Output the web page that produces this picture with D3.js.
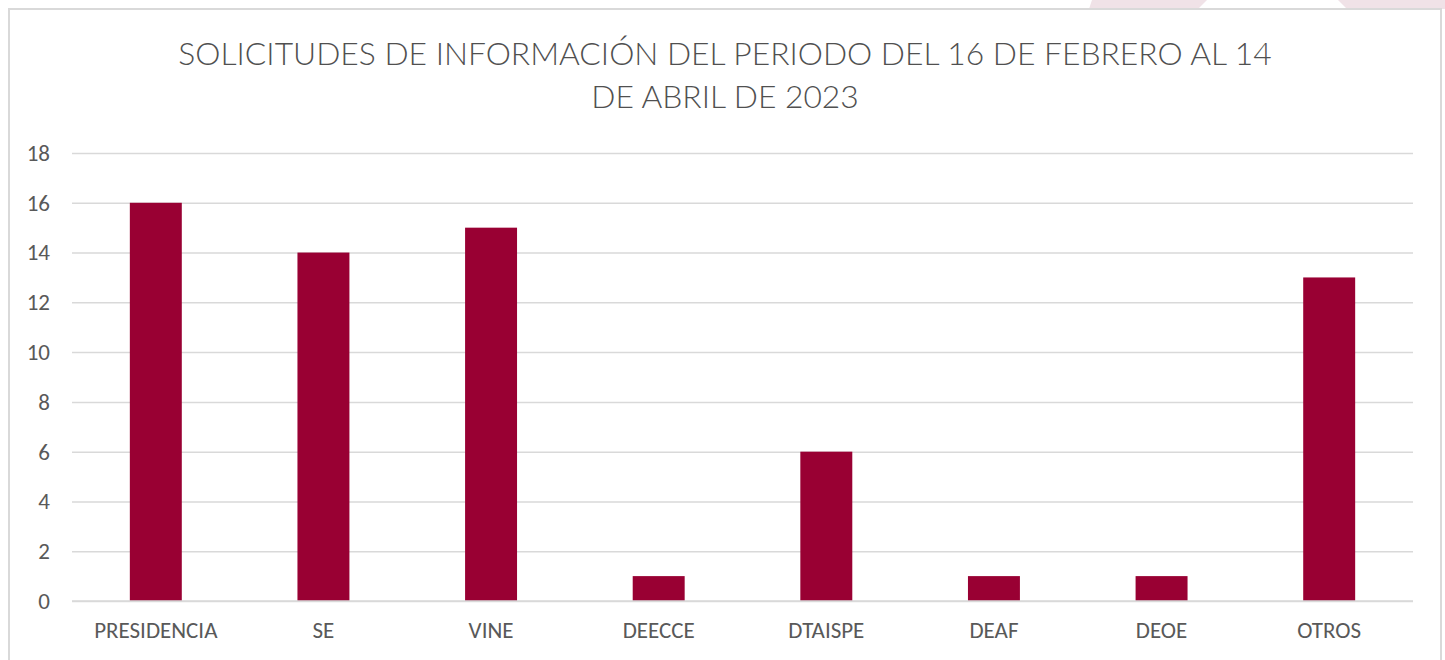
<!DOCTYPE html>
<html>
<head>
<meta charset="utf-8">
<script src="https://cdn.jsdelivr.net/npm/d3@7"></script>
<style>
  html, body { margin: 0; padding: 0; background: #ffffff; }
  svg { display: block; }
</style>
</head>
<body>
<div id="chart"></div>
<script>
// Datos
const categorias = ['PRESIDENCIA', 'SE', 'VINE', 'DEECCE', 'DTAISPE', 'DEAF', 'DEOE', 'OTROS']
const solicitudes = [16, 14, 15, 1, 6, 1, 1, 13]
const ticksY = [0, 2, 4, 6, 8, 10, 12, 14, 16, 18]
const titulo = ['SOLICITUDES DE INFORMACIÓN DEL PERIODO DEL 16 DE FEBRERO AL 14', 'DE ABRIL DE 2023']

const COLORES = {
  barra: '#990033',
  texto: '#595959',
  grid:  '#d9d9d9',
  borde: '#d9d9d9',
  rosa:  '#f0e2e7',
}
const FUENTE = "Carlito, Calibri, Lato, sans-serif"

const width = 1445, height = 660
const m = { left: 72, right: 32, top: 153, bottom: 59 }

const svg = d3.select('#chart')
  .append('svg')
  .attr('width', width)
  .attr('height', height)

// Franja rosa del fondo (parte superior)
svg.append('polygon')
  .attr('points', '1092,0 1207,0 1198,9 1089,9')
  .attr('fill', COLORES.rosa)
svg.append('polygon')
  .attr('points', '1338,0 1445,0 1445,9 1347,9')
  .attr('fill', COLORES.rosa)

// Recuadro del gráfico
svg.append('rect')
  .attr('x', 9).attr('y', 9)
  .attr('width', 1432).attr('height', 660)
  .attr('fill', '#ffffff')
  .attr('stroke', COLORES.borde)
  .attr('stroke-width', 2)

// Título en dos líneas (Calibri Light → Lato 300)
const tituloG = svg.append('text')
  .attr('text-anchor', 'middle')
  .attr('fill', '#505050')
  .attr('font-family', "Lato, Carlito, sans-serif")
  .attr('font-weight', 300)
  .attr('font-size', 30)
titulo.forEach((t, i) => {
  tituloG.append('tspan')
    .attr('x', 725)
    .attr('y', 65 + i * 43)
    .text(t)
})
// Ajustar el ancho de la primera línea al original (~1094px)
const primera = tituloG.select('tspan').node()
const w0 = primera.getComputedTextLength()
if (w0 > 0) tituloG.attr('font-size', 30 * 1094 / w0)

const innerW = width - m.left - m.right
const innerH = height - m.top - m.bottom

const g = svg.append('g')
  .attr('transform', `translate(${m.left},${m.top})`)

const x = d3.scaleBand()
  .domain(categorias)
  .range([0, innerW])
  .paddingInner(0.69)
  .paddingOuter(0.345)

const y = d3.scaleLinear()
  .domain([0, 18])
  .range([innerH, 0])

// Grid horizontal
g.append('g')
  .call(d3.axisLeft(y).tickValues(ticksY).tickSize(-innerW).tickFormat(''))
  .call(g => g.select('.domain').remove())
  .call(g => g.selectAll('.tick line')
    .attr('stroke', COLORES.grid)
    .attr('stroke-width', 1.5))

// Eje Y (etiquetas)
g.append('g')
  .call(d3.axisLeft(y).tickValues(ticksY).tickSize(0).tickPadding(22))
  .call(g => g.select('.domain').remove())
  .call(g => g.selectAll('.tick text')
    .attr('fill', COLORES.texto)
    .attr('font-family', FUENTE)
    .attr('font-size', 23))

// Barras
g.selectAll('rect.barra')
  .data(categorias)
  .join('rect')
  .attr('class', 'barra')
  .attr('x', d => x(d))
  .attr('y', (d, i) => y(solicitudes[i]))
  .attr('width', x.bandwidth())
  .attr('height', (d, i) => innerH - y(solicitudes[i]))
  .attr('fill', COLORES.barra)

// Línea base
g.append('line')
  .attr('x1', 0).attr('x2', innerW)
  .attr('y1', innerH).attr('y2', innerH)
  .attr('stroke', COLORES.grid)
  .attr('stroke-width', 1.5)

// Eje X (etiquetas)
g.append('g')
  .attr('transform', `translate(0,${innerH})`)
  .call(d3.axisBottom(x).tickSize(0).tickPadding(21))
  .call(g => g.select('.domain').remove())
  .call(g => g.selectAll('.tick text')
    .attr('fill', COLORES.texto)
    .attr('font-family', FUENTE)
    .attr('font-size', 23))
</script>
</body>
</html>
